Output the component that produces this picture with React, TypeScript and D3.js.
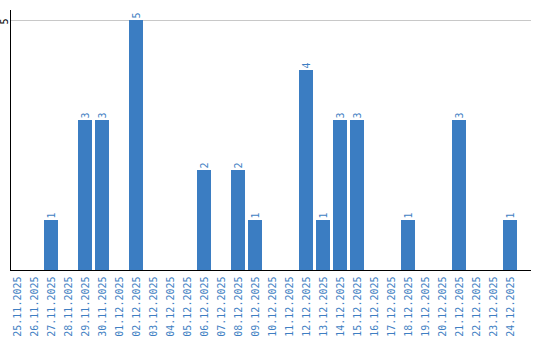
import React from "react";
import * as d3 from "d3";

const categories = [
  "25.11.2025","26.11.2025","27.11.2025","28.11.2025","29.11.2025","30.11.2025",
  "01.12.2025","02.12.2025","03.12.2025","04.12.2025","05.12.2025","06.12.2025",
  "07.12.2025","08.12.2025","09.12.2025","10.12.2025","11.12.2025","12.12.2025",
  "13.12.2025","14.12.2025","15.12.2025","16.12.2025","17.12.2025","18.12.2025",
  "19.12.2025","20.12.2025","21.12.2025","22.12.2025","23.12.2025","24.12.2025",
];
const values = [0,0,1,0,3,3,0,5,0,0,0,2,0,2,1,0,0,4,1,3,3,0,0,1,0,0,3,0,0,1];
const yTicks = [5];

const W = 540, H = 340;
const barColor = "#3b7dc2";
const labelColor = "#3f7fc3";
const font = "'DejaVu Sans Mono', monospace";

export default function App() {
  const x = d3.scaleBand<string>().domain(categories).range([10, 517]).paddingInner(3 / 17).paddingOuter(0);
  const y = d3.scaleLinear().domain([0, 5]).range([270, 20]);
  return (
    <svg width={W} height={H} style={{ position: "absolute", left: 0, top: 0 }}>
      {yTicks.map((t) => (
        <g key={t}>
          <line x1={11} x2={531} y1={y(t) + 0.5} y2={y(t) + 0.5} stroke="#c8c8c8" strokeWidth={1} />
          <text transform={`translate(4,${y(t) + 1.5}) rotate(-90)`} textAnchor="middle" dy="0.35em" fontSize={10} fontFamily={font} fill="#000">{t}</text>
        </g>
      ))}
      {categories.map((c, i) => values[i] > 0 && (
        <g key={c}>
          <rect x={x(c)} y={y(values[i])} width={x.bandwidth()} height={y(0) - y(values[i])} fill={barColor} />
          <text transform={`translate(${x(c)! + x.bandwidth() / 2},${y(values[i]) - 1.5}) rotate(-90)`} textAnchor="start" dy="0.35em" fontSize={10} fontFamily={font} fill={labelColor}>{values[i]}</text>
        </g>
      ))}
      <line x1={10.5} x2={10.5} y1={10} y2={270.5} stroke="#000" strokeWidth={1} />
      <line x1={10} x2={531} y1={270.5} y2={270.5} stroke="#000" strokeWidth={1} />
      {categories.map((c) => (
        <text key={c} transform={`translate(${x(c)! + x.bandwidth() / 2},276.5) rotate(-90)`} textAnchor="end" dy="0.35em" fontSize={10} fontFamily={font} fill={labelColor}>{c}</text>
      ))}
    </svg>
  );
}
